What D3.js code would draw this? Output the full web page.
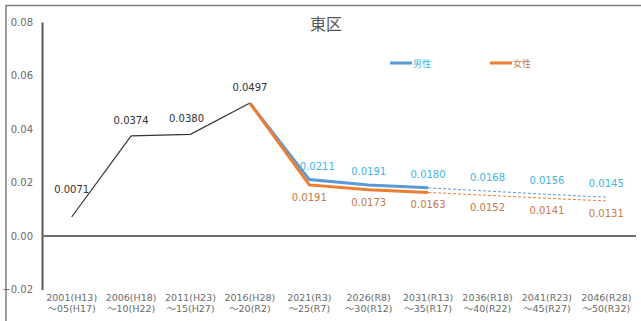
<!DOCTYPE html>
<html><head><meta charset="utf-8">
<script src="https://cdn.jsdelivr.net/npm/d3@7"></script>
<style>
html,body{margin:0;padding:0;background:#fff;}
svg{display:block;font-family:"DejaVu Sans","Noto Sans CJK JP",sans-serif;}
</style></head>
<body>
<svg id="chart" width="641" height="321"></svg>
<script>
// Periods (two-line axis labels)
const periodsTop = ["2001(H13)","2006(H18)","2011(H23)","2016(H28)","2021(R3)","2026(R8)","2031(R13)","2036(R18)","2041(R23)","2046(R28)"];
const periodsBottom = ["～05(H17)","～10(H22)","～15(H27)","～20(R2)","～25(R7)","～30(R12)","～35(R17)","～40(R22)","～45(R27)","～50(R32)"];
// Observed total (first four periods)
const totalValues = [0.0071, 0.0374, 0.0380, 0.0497, null, null, null, null, null, null];
// Projected by sex (from 2016 onward)
const maleValues   = [null, null, null, 0.0497, 0.0211, 0.0191, 0.0180, 0.0168, 0.0156, 0.0145];
const femaleValues = [null, null, null, 0.0497, 0.0191, 0.0173, 0.0163, 0.0152, 0.0141, 0.0131];
const yTicks = [-0.02, 0.00, 0.02, 0.04, 0.06, 0.08];
const solidEnd = 6; // index where the solid segment ends and dashed begins

const svg = d3.select("#chart");
const x = d3.scaleBand().domain(d3.range(periodsTop.length)).range([42, 636]);
const y = d3.scaleLinear().domain([-0.02, 0.08]).range([289.5, 22]);
const cx = i => x(i) + x.bandwidth() / 2;

// Outer frame (top and left edges)
svg.append("path").attr("d", "M6,321V5.5H641").attr("fill", "none").attr("stroke", "#7f7f7f").attr("stroke-width", 1.5);

// Title
svg.append("text").attr("x", 326).attr("y", 30).attr("text-anchor", "middle")
  .attr("font-family", "'Noto Sans CJK JP',sans-serif")
  .attr("font-size", 16).attr("fill", "#595959").text("東区");

// Y axis
const yAxis = d3.axisLeft(y).tickValues(yTicks).tickSize(0).tickPadding(9).tickFormat(d3.format(".2f"));
const gy = svg.append("g").attr("transform", "translate(42,0)").call(yAxis);
gy.select(".domain").attr("stroke", "#595959").attr("stroke-width", 2);
gy.selectAll("text").attr("font-size", 10).attr("fill", "#6a6a6a").attr("font-family", "'DejaVu Sans',sans-serif");

// Zero line
svg.append("line").attr("x1", 42).attr("x2", 636).attr("y1", y(0)).attr("y2", y(0))
  .attr("stroke", "#6f6f6f").attr("stroke-width", 2);

// X axis labels (two lines)
const xl = svg.append("g").attr("font-size", 9.5).attr("fill", "#6a6a6a").attr("text-anchor", "middle");
periodsTop.forEach((t, i) => {
  xl.append("text").attr("x", cx(i)).attr("y", 300.5).text(t);
  xl.append("text").attr("x", cx(i)).attr("y", 312).text(periodsBottom[i]);
});

const line = d3.line().defined(d => d.v != null).x(d => cx(d.i)).y(d => y(d.v));
const pts = arr => arr.map((v, i) => ({i, v}));

// Total line
svg.append("path").datum(pts(totalValues)).attr("d", line)
  .attr("fill", "none").attr("stroke", "#333").attr("stroke-width", 1.2);

function drawSeries(vals, color) {
  const solid = pts(vals).map(d => d.i <= solidEnd ? d : {i: d.i, v: null});
  const dashed = pts(vals).map(d => d.i >= solidEnd ? d : {i: d.i, v: null});
  svg.append("path").datum(dashed).attr("d", line).attr("fill", "none")
    .attr("stroke", color).attr("stroke-width", 1).attr("stroke-dasharray", "3,2");
  svg.append("path").datum(solid).attr("d", line).attr("fill", "none")
    .attr("stroke", color).attr("stroke-width", 3);
}
drawSeries(maleValues, "#5b9bd5");
drawSeries(femaleValues, "#ed7d31");

// Data labels
const fmt = d3.format(".4f");
const labelSize = 10;
const totalOffsets = [-24, -12, -12, -12];
totalValues.forEach((v, i) => {
  if (v == null) return;
  svg.append("text").attr("x", cx(i) + (i === 2 ? -4 : 0)).attr("y", y(v) + totalOffsets[i])
    .attr("text-anchor", "middle").attr("font-size", labelSize).attr("fill", "#333").text(fmt(v));
});
maleValues.forEach((v, i) => {
  if (v == null || i < 4) return;
  svg.append("text").attr("x", cx(i) + (i === 4 ? 8 : 0)).attr("y", y(v) - 10)
    .attr("text-anchor", "middle").attr("font-size", labelSize).attr("fill", "#41b3e4").text(fmt(v));
});
femaleValues.forEach((v, i) => {
  if (v == null || i < 4) return;
  svg.append("text").attr("x", cx(i)).attr("y", y(v) + 16)
    .attr("text-anchor", "middle").attr("font-size", labelSize).attr("fill", "#c8784a").text(fmt(v));
});

// Legend
const legend = [{name: "男性", color: "#5b9bd5", text: "#41b3e4", x: 390}, {name: "女性", color: "#ed7d31", text: "#c8784a", x: 490}];
legend.forEach(l => {
  svg.append("line").attr("x1", l.x).attr("x2", l.x + 22).attr("y1", 63).attr("y2", 63)
    .attr("stroke", l.color).attr("stroke-width", 3);
  svg.append("text").attr("x", l.x + 23).attr("y", 66.5).attr("font-size", 9)
    .attr("font-family", "'Noto Sans CJK JP',sans-serif").attr("fill", l.text).text(l.name);
});
</script>
</body></html>
